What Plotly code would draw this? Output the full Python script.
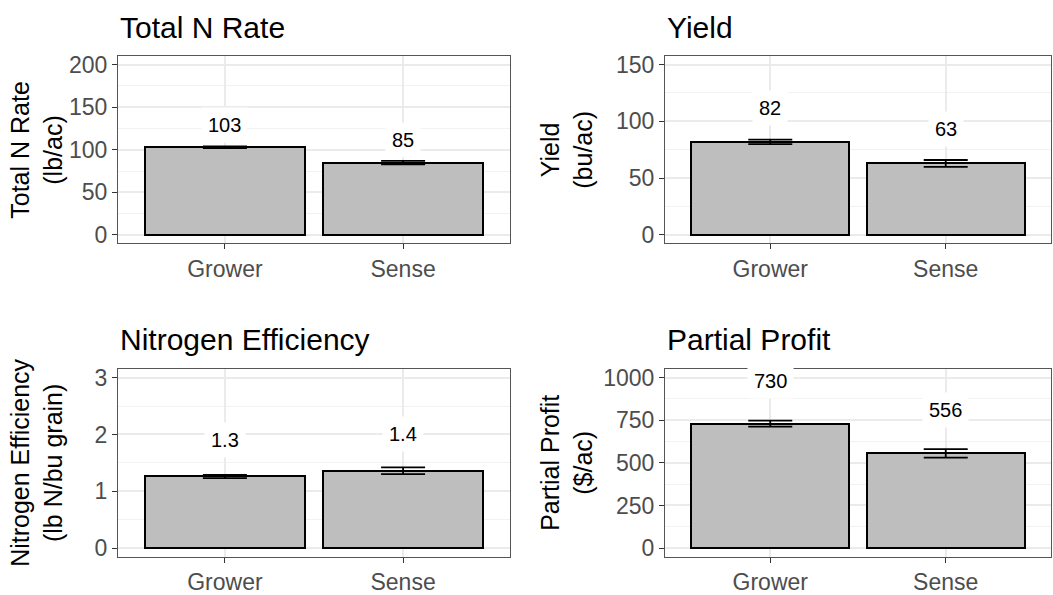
import plotly.graph_objects as go

# ---------------- data ----------------
categories = ["Grower", "Sense"]

n_rate = [103, 85]
n_rate_se = [1, 2]

yield_vals = [82, 63]
yield_se = [2, 3]

n_eff = [1.26, 1.36]
n_eff_se = [0.03, 0.06]

profit = [730, 556]
profit_se = [18, 25]

panel_titles = ["Total N Rate", "Yield", "Nitrogen Efficiency", "Partial Profit"]
axis_titles = ["Total N Rate<br>(lb/ac)", "Yield<br>(bu/ac)",
               "Nitrogen Efficiency<br>(lb N/bu grain)", "Partial Profit<br>($/ac)"]
y_ticks = [[0, 50, 100, 150, 200], [0, 50, 100, 150], [0, 1, 2, 3],
           [0, 250, 500, 750, 1000]]
label_formats = ["{:.0f}", "{:.0f}", "{:.1f}", "{:.0f}"]

# ---------------- layout constants ----------------
W, H = 1053, 595
FONT = "Liberation Sans"
label_offset = [26, 30, 0.64, 252]
# panel pixel boxes (left, right, top, bottom)
boxes = [(118, 510, 53, 244), (665, 1051, 53, 244),
         (118, 510, 372, 563), (665, 1051, 372, 563)]
title_y_px = [24, 24, 342, 342]
ytitle_x_px = [37, 567, 37, 567]

values = [n_rate, yield_vals, n_eff, profit]
errors = [n_rate_se, yield_se, n_eff_se, profit_se]

fig = go.Figure()
annotations = []

for i in range(4):
    ax = "" if i == 0 else str(i + 1)
    xa, ya = "x" + ax, "y" + ax
    l, r, t, b = boxes[i]
    ymax = y_ticks[i][-1]
    fig.add_trace(go.Bar(
        x=categories, y=values[i], width=0.9,
        marker=dict(color="#BEBEBE", line=dict(color="black", width=2)),
        error_y=dict(type="data", array=errors[i], color="black",
                     thickness=1.8, width=22),
        xaxis=xa, yaxis=ya, showlegend=False, hoverinfo="skip"))

    fig.layout["xaxis" + ax] = dict(
        domain=[l / W, r / W], anchor=ya, type="category",
        range=[-0.6, 1.6], showline=True, mirror=True,
        linecolor="#555555", linewidth=1, ticks="outside", ticklen=5,
        tickcolor="#333333", tickwidth=1.2, showgrid=True,
        gridcolor="#EBEBEB", gridwidth=1.6,
        tickfont=dict(family=FONT, size=23, color="#4D4D4D"))
    fig.layout["yaxis" + ax] = dict(
        domain=[1 - b / H, 1 - t / H], anchor=xa,
        range=[-0.05 * ymax, 1.05 * ymax], tickvals=y_ticks[i],
        showline=True, mirror=True, linecolor="#555555", linewidth=1,
        ticks="outside", ticklen=5, tickcolor="#333333", tickwidth=1.2,
        showgrid=True, gridcolor="#EBEBEB", gridwidth=1.6, zeroline=False,
        minor=dict(dtick=(y_ticks[i][1] - y_ticks[i][0]) / 2, showgrid=True,
                   gridcolor="#F2F2F2", gridwidth=0.9, tick0=0),
        tickfont=dict(family=FONT, size=23, color="#4D4D4D"))

    # value labels
    for c, v in zip(categories, values[i]):
        annotations.append(dict(
            x=c, y=v + label_offset[i], xref=xa, yref=ya,
            text=label_formats[i].format(v), showarrow=False,
            font=dict(family=FONT, size=20, color="black"),
            bgcolor="white", borderpad=6, xanchor="center", yanchor="middle"))

    # panel title
    annotations.append(dict(
        x=l / W, y=1 - title_y_px[i] / H, xref="paper", yref="paper",
        text=panel_titles[i], showarrow=False, xanchor="left",
        yanchor="middle", font=dict(family=FONT, size=30, color="black")))

    # y axis title
    annotations.append(dict(
        x=ytitle_x_px[i] / W, y=1 - (t + b) / 2 / H, xref="paper",
        yref="paper", text=axis_titles[i], showarrow=False, textangle=-90,
        xanchor="center", yanchor="middle",
        font=dict(family=FONT, size=25, color="black")))

fig.update_layout(
    width=W, height=H, margin=dict(l=0, r=0, t=0, b=0),
    paper_bgcolor="white", plot_bgcolor="white",
    annotations=annotations, bargap=0)

fig.write_html(
    "out.html",
    config={"displayModeBar": False},
    post_script="document.body.style.margin='0';document.body.style.overflow='hidden';")
